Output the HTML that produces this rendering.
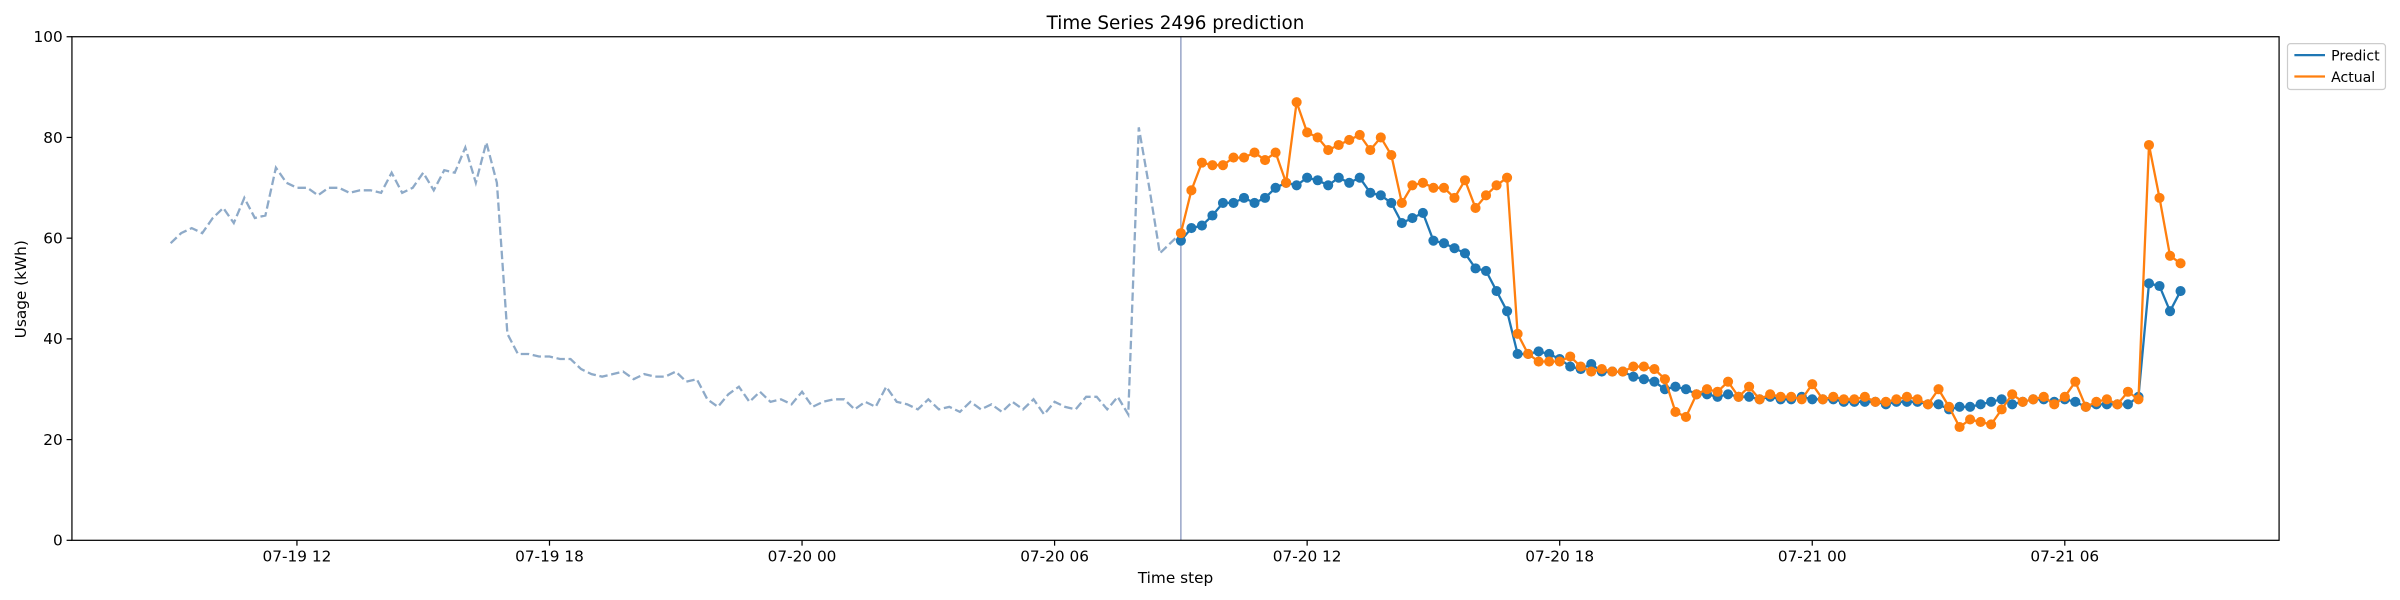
<!DOCTYPE html>
<html><head><meta charset="utf-8"><style>
html,body{margin:0;padding:0;background:#fff;}
svg{display:block;font-family:"DejaVu Sans","Liberation Sans",sans-serif;}
</style></head><body>
<svg id="chart" width="2400" height="600" viewBox="0 0 1568 392" xmlns="http://www.w3.org/2000/svg">
<rect x="0" y="0" width="1568" height="392" fill="#fff"/>
<text x="768" y="19" font-size="12" text-anchor="middle">Time Series 2496 prediction</text>
<g id="plot"></g>
<rect x="47" y="24" width="1442" height="329" fill="none" stroke="#000" stroke-width="0.8"/>
<text transform="translate(17,189) rotate(-90)" font-size="10" text-anchor="middle">Usage (kWh)</text>
<text x="768" y="381" font-size="10" text-anchor="middle">Time step</text>
<g>
<rect x="1494.5" y="28.5" width="64" height="30" rx="2" fill="#fff" stroke="#ccc" stroke-width="0.8"/>
<line x1="1499" y1="36" x2="1519" y2="36" stroke="#1f77b4" stroke-width="1.5"/>
<text x="1523" y="39.5" font-size="9.2">Predict</text>
<line x1="1499" y1="50" x2="1519" y2="50" stroke="#ff7f0e" stroke-width="1.5"/>
<text x="1523" y="53.5" font-size="9.2">Actual</text>
</g>
</svg>
<script>
const history = [59,61,62,61,64,66,63,68,64,64.5,74,71,70,70,68.5,70,70,69,69.5,69.5,69,73,69,70,73,69.5,73.5,73,78,71,79,71,41,37,37,36.5,36.5,36,36,34,33,32.5,33,33.5,32,33,32.5,32.5,33.5,31.5,32,28,26.5,29,30.5,27.5,29.5,27.5,28,27,29.5,26.5,27.5,28,28,26,27.5,26.5,30.5,27.5,27,26,28,26,26.5,25.5,27.5,26,27,25.5,27.5,26,28,25,27.5,26.5,26,28.5,28.5,26,28.5,25,82,70,57,59];
const predict = [59.5,62,62.5,64.5,67,67,68,67,68,70,71,70.5,72,71.5,70.5,72,71,72,69,68.5,67,63,64,65,59.5,59,58,57,54,53.5,49.5,45.5,37,37,37.5,37,36,34.5,34,35,33.5,33.5,33.5,32.5,32,31.5,30,30.5,30,29,29,28.5,29,28.5,28.5,28,28.5,28,28,28.5,28,28,28,27.5,27.5,27.5,27.5,27,27.5,27.5,27.5,27,27,26,26.5,26.5,27,27.5,28,27,27.5,28,28,27.5,28,27.5,26.5,27,27,27,27,28.5,51,50.5,45.5,49.5];
const actual = [61,69.5,75,74.5,74.5,76,76,77,75.5,77,71,87,81,80,77.5,78.5,79.5,80.5,77.5,80,76.5,67,70.5,71,70,70,68,71.5,66,68.5,70.5,72,41,37,35.5,35.5,35.5,36.5,34.5,33.5,34,33.5,33.5,34.5,34.5,34,32,25.5,24.5,29,30,29.5,31.5,28.5,30.5,28,29,28.5,28.5,28,31,28,28.5,28,28,28.5,27.5,27.5,28,28.5,28,27,30,26.5,22.5,24,23.5,23,26,29,27.5,28,28.5,27,28.5,31.5,26.5,27.5,28,27,29.5,28,78.5,68,56.5,55];
const yTicks = [0,20,40,60,80,100];
const xTickHours = [3,9,15,21,27,33,39,45];
const xTickLabels = ["07-19 12","07-19 18","07-20 00","07-20 06","07-20 12","07-20 18","07-21 00","07-21 06"];

const NS="http://www.w3.org/2000/svg";
const g=document.getElementById('plot');
const y=v=>353-v*3.29;
const xh=h=>111.5+h*27.5;
const xi=i=>xh(i*0.25);
function mk(t,a){const e=document.createElementNS(NS,t);for(const k in a)e.setAttribute(k,a[k]);g.appendChild(e);return e;}
yTicks.forEach(v=>{
  const l=mk('line',{x1:43.5,x2:47,y1:y(v),y2:y(v),stroke:'#000','stroke-width':0.8});
  
  
  const t=mk('text',{x:41,y:y(v)+3.5,'font-size':10,'text-anchor':'end'});t.textContent=v;
  
  
});
xTickHours.forEach((h,k)=>{
  const l=mk('line',{x1:xh(h),x2:xh(h),y1:353,y2:356.5,stroke:'#000','stroke-width':0.8});
  
  
  const t=mk('text',{x:xh(h),y:367,'font-size':10,'text-anchor':'middle'});t.textContent=xTickLabels[k];
  
  
});
const n0=history.length;
const hp=history.map((v,i)=>xi(i).toFixed(2)+','+y(v).toFixed(2));
hp.push(xi(n0).toFixed(2)+','+y(actual[0]).toFixed(2));
const hl=mk('polyline',{points:hp.join(' '),fill:'none',stroke:'#8eaac8','stroke-width':1.5,'stroke-dasharray':'5.5,2.4'});


const vl=mk('line',{x1:xi(n0),x2:xi(n0),y1:24,y2:353,stroke:'#9aa6c8','stroke-width':1});


function series(arr,color,name){
  const pts=arr.map((v,i)=>xi(n0+i).toFixed(2)+','+y(v).toFixed(2)).join(' ');
  const pl=mk('polyline',{points:pts,fill:'none',stroke:color,'stroke-width':1.5});
  
  
  arr.forEach((v,i)=>{
    const c=mk('circle',{cx:xi(n0+i),cy:y(v),r:3.3,fill:color});
    
    
  });
}
series(predict,'#1f77b4','predict');
series(actual,'#ff7f0e','actual');
</script>
</body></html>
